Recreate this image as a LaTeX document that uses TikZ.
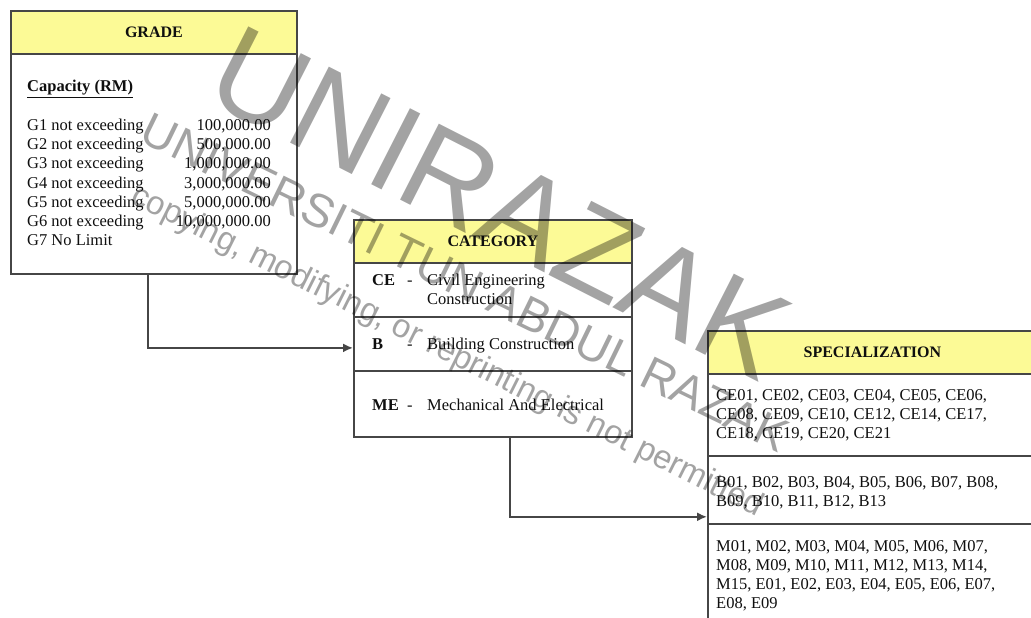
\documentclass[tikz,border=0pt]{standalone}
\usepackage{fontspec}
\setmainfont{Liberation Serif}
\newfontfamily\wmfont{Liberation Sans}
\usetikzlibrary{arrows.meta}
\definecolor{headyellow}{RGB}{252,250,150}
\definecolor{linecol}{RGB}{70,70,70}
\definecolor{txtcol}{RGB}{15,15,15}
\begin{document}
\begin{tikzpicture}[x=1pt,y=-1pt,
  box/.style={draw=linecol, line width=1.8pt, anchor=north west, inner sep=0pt, minimum width=#1},
  box/.default=286,
  head/.style={box=#1, fill=headyellow, minimum height=43pt, text=txtcol,
    font=\fontsize{16}{19}\selectfont\bfseries},
  txt/.style={anchor=base west, inner sep=0pt, text=txtcol, font=\fontsize{16.5}{19}\selectfont},
  num/.style={txt, anchor=base east},
  bold/.style={txt, font=\fontsize{16.5}{19}\selectfont\bfseries},
  conn/.style={draw=linecol, line width=1.8pt, -{Latex[length=10pt,width=9pt]}},
  wm/.style={inner sep=0pt, text=black, text opacity=0.36}
]
\useasboundingbox (0,0) rectangle (1031,618);
\fill[white] (0,0) rectangle (1031,618);
\clip (0,0) rectangle (1031,618);

% GRADE box
\node[box=286, minimum height=221pt] (gradeb) at (10,52) {};
\node[head=286] (gradeh) at (10,10) {GRADE};
\node[bold] (cap) at (27,92) {\underline{Capacity (RM)}};
\node[txt] (g1) at (27,130.5) {G1 not exceeding};
\node[txt] (g2) at (27,149.7) {G2 not exceeding};
\node[txt] (g3) at (27,168.9) {G3 not exceeding};
\node[txt] (g4) at (27,188.1) {G4 not exceeding};
\node[txt] (g5) at (27,207.3) {G5 not exceeding};
\node[txt] (g6) at (27,226.5) {G6 not exceeding};
\node[txt] (g7) at (27,245.7) {G7 No Limit};
\node[num] (n1) at (271,130.5) {100,000.00};
\node[num] (n2) at (271,149.7) {500,000.00};
\node[num] (n3) at (271,168.9) {1,000,000.00};
\node[num] (n4) at (271,188.1) {3,000,000.00};
\node[num] (n5) at (271,207.3) {5,000,000.00};
\node[num] (n6) at (271,226.5) {10,000,000.00};

% CATEGORY box
\node[box=278, minimum height=54pt] (cat1) at (353,262) {};
\node[box=278, minimum height=54pt] (cat2) at (353,316) {};
\node[box=278, minimum height=66pt] (cat3) at (353,370) {};
\node[head=278] (cath) at (353,219) {CATEGORY};
\node[bold] (ce) at (372,285.5) {CE};
\node[txt] (ced) at (407,285.5) {-};
\node[txt] (cet1) at (427,285.5) {Civil Engineering};
\node[txt] (cet2) at (427,304) {Construction};
\node[bold] (bb) at (372,349.5) {B};
\node[txt] (bd) at (407,349.5) {-};
\node[txt] (bt) at (427,349.5) {Building Construction};
\node[bold] (me) at (372,410.5) {ME};
\node[txt] (med) at (407,410.5) {-};
\node[txt] (met) at (427,410.5) {Mechanical And Electrical};

% SPECIALIZATION box
\node[box=340, minimum height=82pt] (specCE) at (707,373) {};
\node[box=340, minimum height=68pt] (specB) at (707,455) {};
\node[box=340, minimum height=110pt] (specM) at (707,523) {};
\node[head=340] (spech) at (707,330) {\hspace*{-11pt}SPECIALIZATION};
\node[txt] (s1) at (716,400) {CE01, CE02, CE03, CE04, CE05, CE06,};
\node[txt] (s2) at (716,419) {CE08, CE09, CE10, CE12, CE14, CE17,};
\node[txt] (s3) at (716,438) {CE18, CE19, CE20, CE21};
\node[txt] (s4) at (716,487) {B01, B02, B03, B04, B05, B06, B07, B08,};
\node[txt] (s5) at (716,506) {B09, B10, B11, B12, B13};
\node[txt] (s6) at (716,551.5) {M01, M02, M03, M04, M05, M06, M07,};
\node[txt] (s7) at (716,570.5) {M08, M09, M10, M11, M12, M13, M14,};
\node[txt] (s8) at (716,589.5) {M15, E01, E02, E03, E04, E05, E06, E07,};
\node[txt] (s9) at (716,608.5) {E08, E09};

% connectors
\draw[conn] (gradeb.south west) ++(138,0) |- ([yshift=-4pt]cat2.west);
\draw[conn] (cat3.south west) ++(157,0) |- ([yshift=8pt]specB.south west);

% watermark
\node[wm, rotate=-27, font=\wmfont\fontsize{124}{124}\selectfont] (wm1) at (500,203) {UNIRAZAK};
\node[wm, rotate=-26, font=\wmfont\fontsize{47}{47}\selectfont] (wm2) at (465,282) {UNIVERSITI TUN ABDUL RAZAK};
\node[wm, rotate=-26.6, font=\wmfont\fontsize{33}{33}\selectfont] (wm3) at (447,352) {copying, modifying, or reprinting is not permitted};
\end{tikzpicture}
\end{document}
